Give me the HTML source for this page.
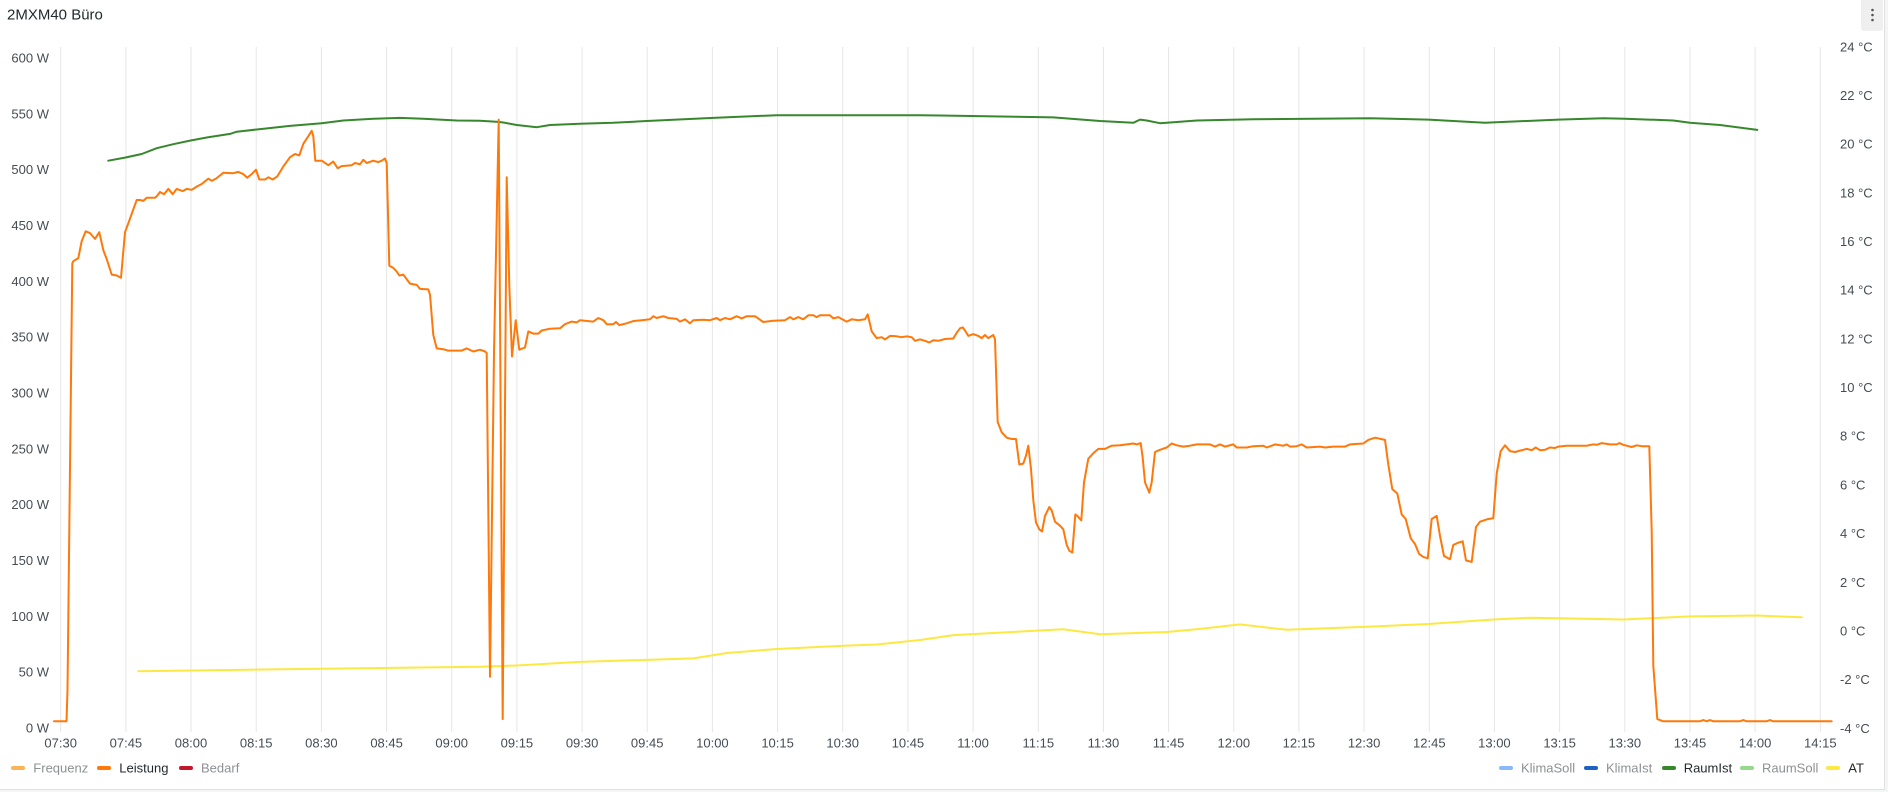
<!DOCTYPE html>
<html><head><meta charset="utf-8"><style>
html,body{margin:0;padding:0;background:#f4f5f5;}
svg{display:block;font-family:"Liberation Sans",Arial,sans-serif;}
</style></head><body>
<svg width="1888" height="792" viewBox="0 0 1888 792" xmlns="http://www.w3.org/2000/svg">
<rect x="0" y="0" width="1888" height="792" fill="#f4f5f5"/>
<rect x="-1" y="-1" width="1885.5" height="790.5" fill="#ffffff" stroke="#e0e0e0" stroke-width="1"/>
<text x="7" y="15" font-size="15" fill="#24292e" dominant-baseline="central">2MXM40 Büro</text>
<rect x="1861" y="-4" width="22" height="35" rx="3" fill="#efefef"/>
<circle cx="1872.5" cy="10" r="1.3" fill="#555"/><circle cx="1872.5" cy="15" r="1.3" fill="#555"/><circle cx="1872.5" cy="20" r="1.3" fill="#555"/>
<g stroke="#e6e6e6" stroke-width="1">
<line x1="60.7" y1="47" x2="60.7" y2="732"/><line x1="125.9" y1="47" x2="125.9" y2="732"/><line x1="191" y1="47" x2="191" y2="732"/><line x1="256.2" y1="47" x2="256.2" y2="732"/><line x1="321.4" y1="47" x2="321.4" y2="732"/><line x1="386.6" y1="47" x2="386.6" y2="732"/><line x1="451.7" y1="47" x2="451.7" y2="732"/><line x1="516.9" y1="47" x2="516.9" y2="732"/><line x1="582.1" y1="47" x2="582.1" y2="732"/><line x1="647.2" y1="47" x2="647.2" y2="732"/><line x1="712.4" y1="47" x2="712.4" y2="732"/><line x1="777.6" y1="47" x2="777.6" y2="732"/><line x1="842.7" y1="47" x2="842.7" y2="732"/><line x1="907.9" y1="47" x2="907.9" y2="732"/><line x1="973.1" y1="47" x2="973.1" y2="732"/><line x1="1038.3" y1="47" x2="1038.3" y2="732"/><line x1="1103.4" y1="47" x2="1103.4" y2="732"/><line x1="1168.6" y1="47" x2="1168.6" y2="732"/><line x1="1233.8" y1="47" x2="1233.8" y2="732"/><line x1="1298.9" y1="47" x2="1298.9" y2="732"/><line x1="1364.1" y1="47" x2="1364.1" y2="732"/><line x1="1429.3" y1="47" x2="1429.3" y2="732"/><line x1="1494.4" y1="47" x2="1494.4" y2="732"/><line x1="1559.6" y1="47" x2="1559.6" y2="732"/><line x1="1624.8" y1="47" x2="1624.8" y2="732"/><line x1="1690" y1="47" x2="1690" y2="732"/><line x1="1755.1" y1="47" x2="1755.1" y2="732"/><line x1="1820.3" y1="47" x2="1820.3" y2="732"/>
</g>
<g font-size="13" fill="#464c54" text-anchor="end" dominant-baseline="central">
<text x="49" y="728">0 W</text><text x="49" y="672.2">50 W</text><text x="49" y="616.3">100 W</text><text x="49" y="560.5">150 W</text><text x="49" y="504.7">200 W</text><text x="49" y="448.9">250 W</text><text x="49" y="393">300 W</text><text x="49" y="337.2">350 W</text><text x="49" y="281.4">400 W</text><text x="49" y="225.5">450 W</text><text x="49" y="169.7">500 W</text><text x="49" y="113.9">550 W</text><text x="49" y="58">600 W</text>
</g>
<g font-size="13" fill="#464c54" text-anchor="start" dominant-baseline="central">
<text x="1840" y="728.3">-4 °C</text><text x="1840" y="679.6">-2 °C</text><text x="1840" y="631">0 °C</text><text x="1840" y="582.3">2 °C</text><text x="1840" y="533.6">4 °C</text><text x="1840" y="484.9">6 °C</text><text x="1840" y="436.2">8 °C</text><text x="1840" y="387.5">10 °C</text><text x="1840" y="338.9">12 °C</text><text x="1840" y="290.2">14 °C</text><text x="1840" y="241.5">16 °C</text><text x="1840" y="192.8">18 °C</text><text x="1840" y="144.1">20 °C</text><text x="1840" y="95.5">22 °C</text><text x="1840" y="46.8">24 °C</text>
</g>
<g font-size="13" fill="#464c54" text-anchor="middle" dominant-baseline="central">
<text x="60.7" y="743">07:30</text><text x="125.9" y="743">07:45</text><text x="191" y="743">08:00</text><text x="256.2" y="743">08:15</text><text x="321.4" y="743">08:30</text><text x="386.6" y="743">08:45</text><text x="451.7" y="743">09:00</text><text x="516.9" y="743">09:15</text><text x="582.1" y="743">09:30</text><text x="647.2" y="743">09:45</text><text x="712.4" y="743">10:00</text><text x="777.6" y="743">10:15</text><text x="842.7" y="743">10:30</text><text x="907.9" y="743">10:45</text><text x="973.1" y="743">11:00</text><text x="1038.3" y="743">11:15</text><text x="1103.4" y="743">11:30</text><text x="1168.6" y="743">11:45</text><text x="1233.8" y="743">12:00</text><text x="1298.9" y="743">12:15</text><text x="1364.1" y="743">12:30</text><text x="1429.3" y="743">12:45</text><text x="1494.4" y="743">13:00</text><text x="1559.6" y="743">13:15</text><text x="1624.8" y="743">13:30</text><text x="1690" y="743">13:45</text><text x="1755.1" y="743">14:00</text><text x="1820.3" y="743">14:15</text>
</g>
<g fill="none" stroke-width="2" stroke-linejoin="round" stroke-linecap="round">
<polyline stroke="#FDE843" points="138.3,671.3 300,669 480,666.8 516.7,665.5 580,661.9 693.3,658.4 726.7,653 776.7,649 843.3,645.8 876.7,644.5 920,640 953.3,635.1 1053.3,629.8 1063.3,629.3 1100,634.2 1166.7,632 1200,628.9 1240,624.4 1286.7,629.8 1370,626.6 1428.3,624 1493.3,619.5 1530,617.7 1558.3,618.2 1623.3,619.5 1690,616.4 1756.7,615.5 1801.7,617.3"/>
<polyline stroke="#37872D" points="108.3,160.7 125,157.6 141.7,154 156.7,148.2 173.3,144.2 190,140.6 206.7,137.5 230,133.9 236.7,131.7 256.7,129.5 290,125.9 321.7,123.2 343.3,120.5 373.3,118.7 400,117.9 423.3,118.7 456.7,120.5 480,120.8 498.3,121.9 505,122.8 516.7,125 536.7,127.2 550,125 580,123.7 613.3,122.8 646.7,121 713.3,117.9 776.7,115.2 843.3,115.2 920,115.2 940,115.5 1053.3,117.4 1100,121 1133.3,122.8 1140,119.6 1146.7,120.5 1160,123.2 1196.7,120.5 1253.3,119.2 1370,118.3 1428.3,119.6 1485,122.8 1558.3,119.6 1603.3,118.3 1625,118.7 1673.3,120.5 1690,122.8 1720,125 1757.3,129.9"/>
<polyline stroke="#FF780A" points="54,721.3 66.5,721.3 67.5,690 72.3,263.5 73.3,261.2 78.3,258.1 81.7,241.1 85.7,231.3 90,233.1 95,238.9 99.3,232.2 103.3,250.1 106.7,259 111.7,274.6 116.7,275.5 121,277.8 125,232.2 128.3,223.3 136.7,200 140,200 143.3,200.9 146.7,197.8 155,197.8 157.3,195.6 160,192 164,194.2 168.3,188.9 172.7,194.2 176.7,188.9 182.7,191.1 186.7,188.9 191.7,189.8 196.7,186.6 201.7,184 208.3,178.6 211.7,180.8 216,178.6 223.3,172.8 233.3,173.2 238.3,171.9 243.3,174.1 247.3,177.7 251.7,174.1 256,169.7 259.3,179.5 265,179.5 268.3,177.3 272.7,179.5 277.3,176.4 283.3,166.5 290,157.2 295,154 299.3,155.4 303.3,143.8 308.3,136.2 311.7,130.8 313.3,136.2 315.3,160.7 321.7,160.7 328.3,165.2 333.3,161.6 337.7,168.3 341.7,166.1 351.7,165.2 355,163 360,164.3 363.3,159.8 366.7,163 373.3,160.7 378.3,162.1 381.7,160.7 385,158.5 386.7,163 389.3,265.7 393.3,267.9 396.7,271.5 399.3,275.5 403.3,274.6 410,283.6 416.7,284.9 420,288.9 428.3,289.4 430,294.8 433.3,335 436.7,348.4 443.3,349.2 448.3,350.6 461.7,350.6 466.7,348.4 473.3,351.5 480,349.7 485,351.5 486.7,352.8 490,676.7 494,352.8 498.7,119.6 502.7,719.1 506.7,177.3 509.3,285.8 512,356.4 515.7,320.2 519.3,349.7 525,347.5 528.3,331.4 533.3,333.6 538.3,333.6 541.7,330.5 550,328.7 560,328.3 565,324.2 571.7,321.6 576.7,322.4 580,320.2 593.3,321.6 598.3,318 603.3,320.2 606.7,324.2 613.3,324.2 616,322 619.3,325.1 626.7,323.3 633.3,321.1 641.7,320.2 650,319.3 653.3,316.2 656.7,318 663.3,316.2 668.3,318 676.7,318.9 680,321.6 685,319.3 690,323.3 693.3,320.2 703.3,319.8 710,320.2 716.7,318 720,320.2 725,318 730,319.3 736.7,316.2 741.7,318.4 746.7,316.2 755,316.2 763.3,322 773.3,320.7 785,320.2 790,317.1 793.3,319.3 798.3,317.1 803.3,319.3 808.3,315.3 813.3,315.3 816.7,317.1 820,315.3 830,315.3 833.3,318.4 838.3,317.1 846.7,321.6 851.7,319.3 858.3,320.2 865,319.3 867.7,314.4 871.7,331.4 876.7,338.1 881.7,337.2 885,339.4 890,335.9 896.7,336.3 901.7,337.2 906.7,336.3 911.7,337.2 915,340.8 920,339.4 925,340.8 929.3,342.5 933.3,340.3 938.3,340.8 945,339 953.3,338.5 956.7,332.7 960,328.3 962.7,327.4 965,330.5 968.3,335.9 973.3,334.1 978.3,335.9 981.7,338.1 985,335 988.3,338.1 993.3,335 995,339.4 997.7,422.1 1001.7,432.3 1006.7,437.7 1011.7,439 1016,439 1019.3,464.5 1023.3,463.6 1026,455.6 1028.3,445.7 1031,468.9 1033.3,500.2 1036,522.6 1039.3,529.3 1042,531.5 1045,515.9 1049.3,507 1051.7,510.5 1055,521.7 1060,525.7 1063.3,529.3 1066.7,544.9 1069.3,550.7 1072.3,552.5 1075.3,514.5 1077.3,515.9 1081.3,520.3 1084,482.4 1088.3,458.7 1093.3,453.3 1098.3,448.9 1105,448.9 1111.7,445.7 1120,445.3 1126.7,444.4 1133.3,443.5 1136.7,444.4 1140.7,443.1 1142.7,457.8 1145,482.4 1149.3,492.6 1151.7,482.4 1155,452 1160,449.8 1166.7,447.5 1171.7,443.5 1176.7,445.3 1183.3,446.6 1190,445.7 1196.7,444.4 1210,444.4 1215,446.6 1220,444.4 1225,446.6 1233.3,444.4 1236.7,447.5 1246.7,447.5 1253.3,446.2 1263.3,445.7 1266.7,447.5 1275,444.4 1283.3,445.7 1286.7,444.4 1290,446.6 1296.7,446.2 1301.7,444.4 1306.7,447.5 1320,446.6 1325,447.5 1333.3,446.6 1345,446.6 1350,444.4 1363.3,443.5 1368.3,439.9 1375,437.7 1385,439.9 1388.3,464.5 1392.3,489.1 1397.3,493.5 1401.7,514.5 1405.7,519 1410.7,538.2 1415,544 1419,553.8 1423.3,556.9 1427.7,558.3 1431.7,519 1436.7,515.9 1440,536 1444,556 1450,559.2 1453.3,544.9 1458.3,542.7 1462.7,541.3 1466,560.5 1471.7,561.9 1476,527 1480,521.7 1486.7,519.4 1493.3,518.1 1496.7,473.4 1500.7,451.1 1505,445.3 1510,451.1 1515,452 1526.7,448.9 1531.7,450.2 1535.7,447.5 1540,450.2 1545,449.8 1550,447.5 1555,448 1558.3,446.6 1566.7,445.7 1586.7,445.7 1593.3,444.4 1596.7,444.8 1601.7,443.1 1610,444.4 1616.7,444.4 1619.3,443.1 1623.3,444.8 1631.7,447 1636.7,445.3 1641.7,446.2 1649.3,446.2 1651.7,531.5 1653.3,665.5 1657.3,719.1 1663.3,721.3 1700,721.3 1703.3,720 1706.7,721.3 1710,720 1713.3,721.3 1740,721.3 1743.3,720 1746.7,721.3 1766.7,721.3 1770,720 1773.3,721.3 1831.7,721.3"/>
</g>
<g stroke-width="4" stroke-linecap="round">
<line x1="13" y1="768" x2="23" y2="768" stroke="#FFB357"/>
<line x1="99" y1="768" x2="109" y2="768" stroke="#FF780A"/>
<line x1="181" y1="768" x2="191" y2="768" stroke="#C4162A"/>
<line x1="1501" y1="768" x2="1511" y2="768" stroke="#8AB8FF"/>
<line x1="1586" y1="768" x2="1596" y2="768" stroke="#1F60C4"/>
<line x1="1664" y1="768" x2="1674" y2="768" stroke="#37872D"/>
<line x1="1742" y1="768" x2="1752" y2="768" stroke="#96D98D"/>
<line x1="1828" y1="768" x2="1838" y2="768" stroke="#FDE843"/>
</g>
<g font-size="13" dominant-baseline="central">
<text x="33.3" y="768" fill="#8e9093">Frequenz</text>
<text x="119.3" y="768" fill="#24292e">Leistung</text>
<text x="201" y="768" fill="#8e9093">Bedarf</text>
<text x="1521" y="768" fill="#8e9093">KlimaSoll</text>
<text x="1606" y="768" fill="#8e9093">KlimaIst</text>
<text x="1683.7" y="768" fill="#24292e">RaumIst</text>
<text x="1762" y="768" fill="#8e9093">RaumSoll</text>
<text x="1848.3" y="768" fill="#24292e">AT</text>
</g>
</svg>
</body></html>
